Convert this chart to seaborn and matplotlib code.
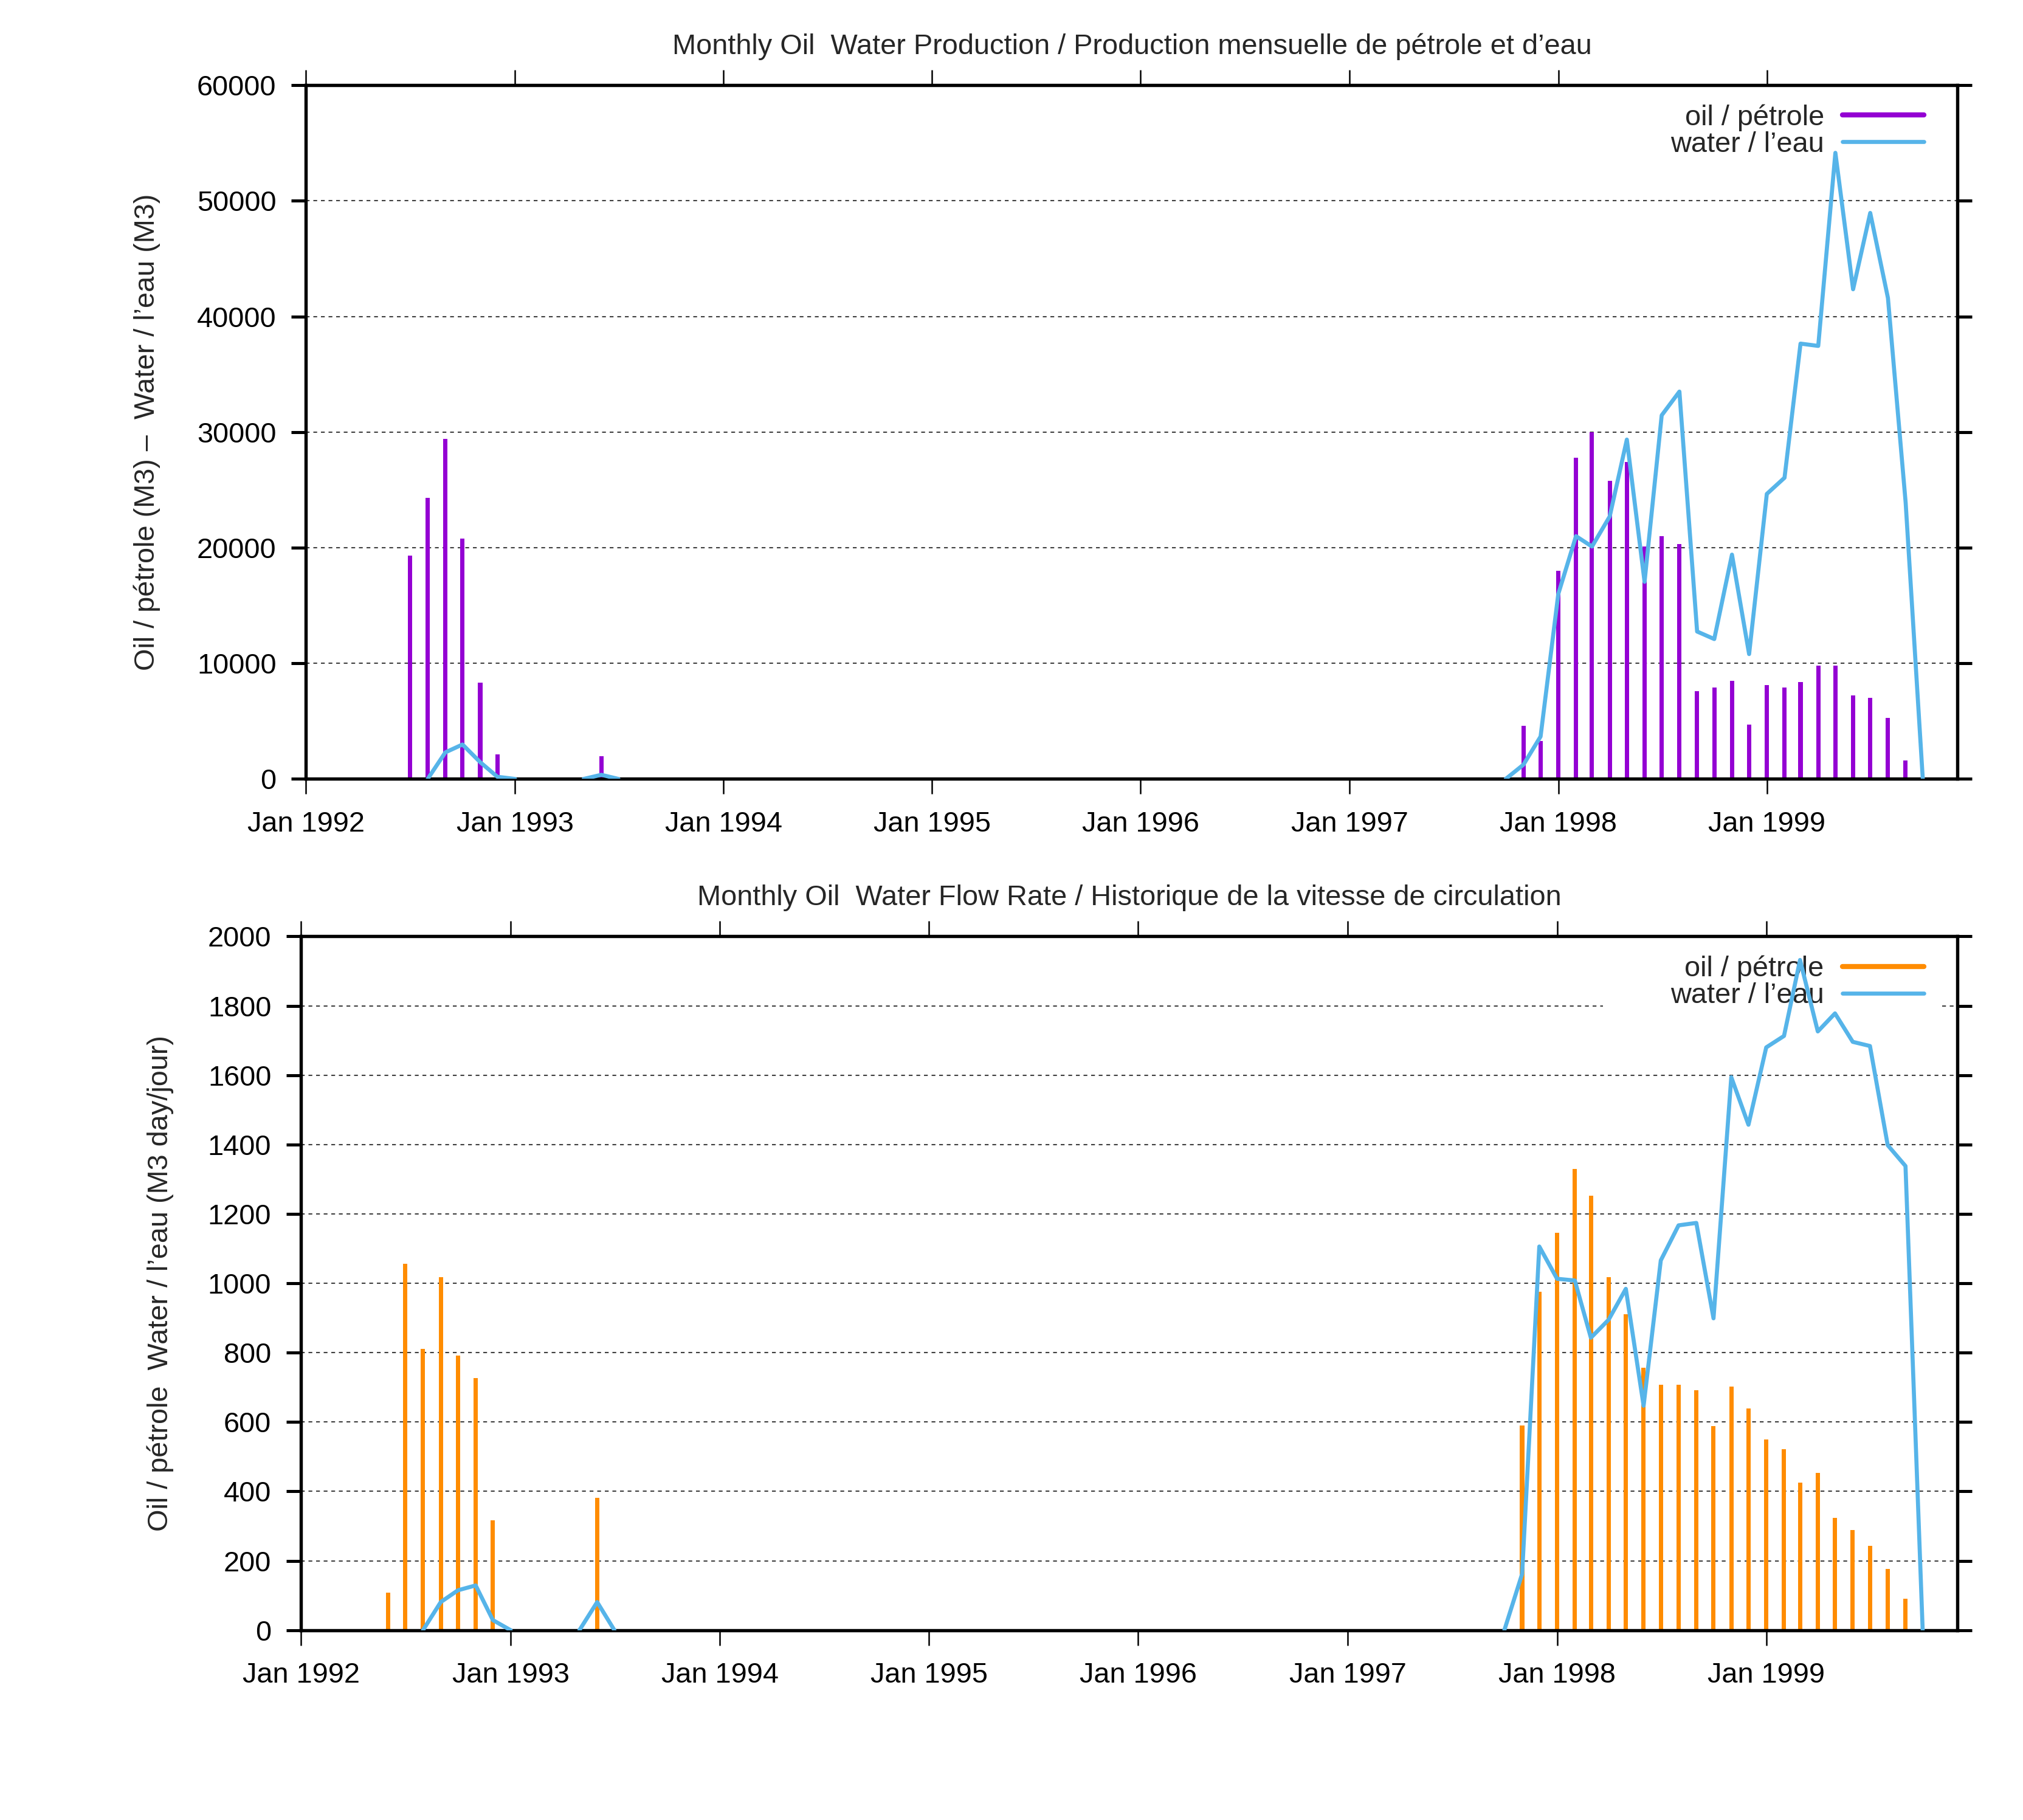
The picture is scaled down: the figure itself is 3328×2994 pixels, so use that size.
import matplotlib
matplotlib.use("Agg")
import matplotlib.pyplot as plt
import matplotlib.dates as mdates
import matplotlib.ticker as mticker
from matplotlib.lines import Line2D
from matplotlib.patches import Rectangle
import numpy as np
import pandas as pd
import seaborn as sns

# ---- data (monthly) ----
# production, M3
prod_oil_early_start = '1992-07'
prod_oil_early = [19300, 24300, 29400, 20800, 8350, 2100]
prod_oil_mid_start = '1993-06'
prod_oil_mid = [1950]
prod_oil_late_start = '1997-11'
prod_oil_late = [4600, 3300, 18000, 27800, 30000, 25800, 27400, 20100, 21000, 20300,
                 7600, 7900, 8500, 4700, 8100, 7900, 8400, 9800, 9800, 7200, 7000, 5300, 1600]

prod_water_early_start = '1992-08'
prod_water_early = [0, 2300, 2980, 1450, 190, 0]
prod_water_mid_start = '1993-05'
prod_water_mid = [0, 360, 0]
prod_water_late_start = '1997-10'
prod_water_late = [0, 1235, 3670, 16000, 21000, 20100, 22700, 29350, 17050, 31450, 33500,
                   12750, 12100, 19400, 10800, 24650, 26050, 37650, 37450, 54150, 42350,
                   48950, 41600, 23900, 0]

# flow rate, M3 day/jour
rate_oil_early_start = '1992-06'
rate_oil_early = [108, 1056, 811, 1017, 791, 727, 317]
rate_oil_mid_start = '1993-06'
rate_oil_mid = [382]
rate_oil_late_start = '1997-11'
rate_oil_late = [590, 975, 1145, 1329, 1253, 1017, 911, 757, 708, 708, 692, 589,
                 702, 640, 550, 521, 426, 454, 323, 289, 243, 177, 90]

rate_water_early_start = '1992-08'
rate_water_early = [0, 81, 115, 129, 29, 0]
rate_water_mid_start = '1993-05'
rate_water_mid = [0, 81, 0]
rate_water_late_start = '1997-10'
rate_water_late = [0, 162, 1106, 1013, 1008, 843, 895, 984, 647, 1066, 1167, 1174, 899,
                   1594, 1457, 1680, 1713, 1932, 1726, 1778, 1696, 1684, 1398, 1338, 0]

titles = ['Monthly Oil  Water Production / Production mensuelle de pétrole et d\u2019eau',
          'Monthly Oil  Water Flow Rate / Historique de la vitesse de circulation']
ylabels = ['Oil / pétrole (M3) \u2013  Water / l\u2019eau (M3)',
           'Oil / pétrole  Water / l\u2019eau (M3 day/jour)']
legend_labels = ['oil / pétrole', 'water / l\u2019eau']

OIL_TOP = '#9400D3'
OIL_BOTTOM = '#FF8C00'
WATER = '#56B4E9'


def segments(pairs):
    frames = []
    for k, (start, vals) in enumerate(pairs):
        d = pd.date_range(start, periods=len(vals), freq='MS')
        frames.append(pd.DataFrame({'date': d, 'value': vals, 'seg': k}))
    return pd.concat(frames, ignore_index=True)


prod_oil = segments([(prod_oil_early_start, prod_oil_early), (prod_oil_mid_start, prod_oil_mid),
                     (prod_oil_late_start, prod_oil_late)])
prod_water = segments([(prod_water_early_start, prod_water_early), (prod_water_mid_start, prod_water_mid),
                       (prod_water_late_start, prod_water_late)])
rate_oil = segments([(rate_oil_early_start, rate_oil_early), (rate_oil_mid_start, rate_oil_mid),
                     (rate_oil_late_start, rate_oil_late)])
rate_water = segments([(rate_water_early_start, rate_water_early), (rate_water_mid_start, rate_water_mid),
                       (rate_water_late_start, rate_water_late)])

sns.set_style('white')
plt.rcParams['font.family'] = ['Liberation Sans', 'DejaVu Sans']
FS = 11.25
plt.rcParams['font.size'] = FS

fig = plt.figure(figsize=(3329 / 300, 2994 / 300), dpi=300)
ax_top = fig.add_axes([0.1512, 0.5720, 0.8162, 0.3812])
ax_bot = fig.add_axes([0.1487, 0.1043, 0.8187, 0.3812])


def draw(ax, oil, water, oil_color, ymax, ystep, title, ylabel, label_x):
    ax.bar(oil['date'], oil['value'], width=7.5, color=oil_color, linewidth=0, zorder=2)
    sns.lineplot(data=water, x='date', y='value', units='seg', estimator=None,
                 color=WATER, linewidth=1.6, ax=ax, zorder=3)

    ax.set_xlim(pd.Timestamp('1992-01-01'), pd.Timestamp('1999-12-01'))
    ax.set_ylim(0, ymax)
    ax.xaxis.set_major_locator(mdates.YearLocator(1, month=1, day=1))
    ax.xaxis.set_major_formatter(mdates.DateFormatter('%b %Y'))
    ax.yaxis.set_major_locator(mticker.MultipleLocator(ystep))
    ax.yaxis.set_major_formatter(mticker.FuncFormatter(lambda v, p: f'{int(round(v))}'))

    ax.set_axisbelow(True)
    ax.yaxis.grid(True, color='#404040', linewidth=0.5, linestyle=(0, (3, 3)))
    ax.xaxis.grid(False)

    for s in ax.spines.values():
        s.set_visible(True)
        s.set_linewidth(1.3)
        s.set_color('black')

    ax.tick_params(axis='x', which='major', direction='out', length=6, width=0.6,
                   top=True, bottom=True, labeltop=False, pad=6.5, labelsize=FS, colors='black')
    ax.tick_params(axis='y', which='major', direction='out', length=5.7, width=1.2,
                   left=True, right=True, labelright=False, pad=6, labelsize=FS, colors='black')

    ax.set_xlabel('')
    ax.set_ylabel(ylabel, fontsize=FS)
    ax.yaxis.set_label_coords(label_x, 0.5)
    ax.set_title(title, fontsize=FS, y=1.0447, pad=0)

    # opaque key box (wider on the left, like the original key)
    ax.add_patch(Rectangle((0.786, 0.886), 0.204, 0.108, transform=ax.transAxes,
                           facecolor='white', edgecolor='none', zorder=2.55))

    handles = [Line2D([], [], color=oil_color, linewidth=2.0),
               Line2D([], [], color=WATER, linewidth=1.6)]
    leg = ax.legend(handles, legend_labels, loc='upper right', bbox_to_anchor=(0.983, 0.981),
                    markerfirst=False, frameon=False,
                    handlelength=2.86, handletextpad=0.64, labelspacing=0.0,
                    borderpad=0.2, borderaxespad=0, fontsize=FS)
    leg.set_zorder(2.6)


draw(ax_top, prod_oil, prod_water, OIL_TOP, 60000, 10000, titles[0], ylabels[0], -0.088)
draw(ax_bot, rate_oil, rate_water, OIL_BOTTOM, 2000, 200, titles[1], ylabels[1], -0.0768)

fig.savefig('out.png', dpi=300)
